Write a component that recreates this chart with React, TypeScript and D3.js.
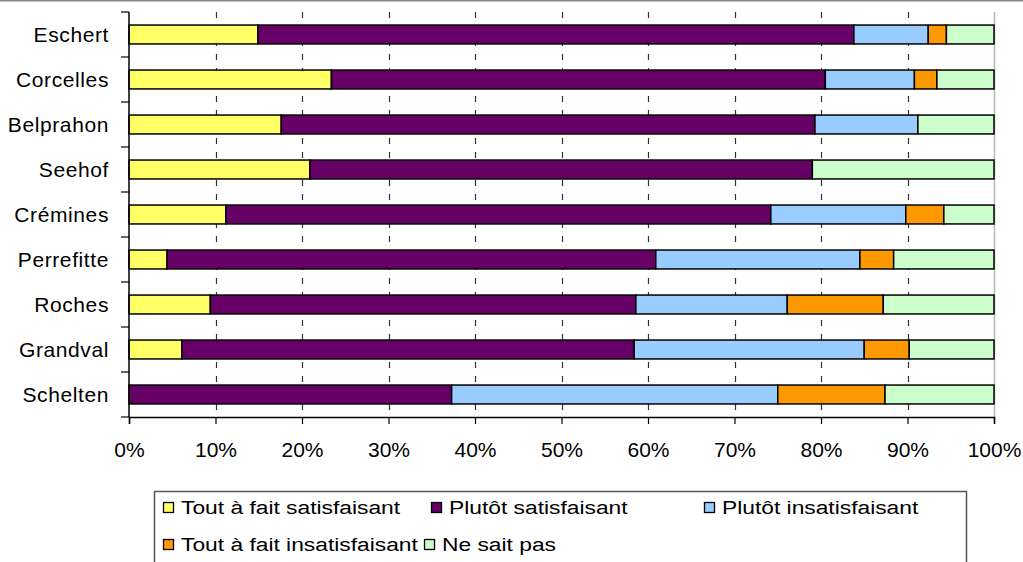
import React, { useRef, useEffect } from "react";
import * as d3 from "d3";

const width = 1023;
const height = 562;
const margin = { left: 129, right: 29, top: 12, bottom: 145 }; // plot area
const font = "'Liberation Sans', Arial, sans-serif";

const communes = [
  "Eschert",
  "Corcelles",
  "Belprahon",
  "Seehof",
  "Crémines",
  "Perrefitte",
  "Roches",
  "Grandval",
  "Schelten",
];

const answers = [
  "Tout à fait satisfaisant",
  "Plutôt satisfaisant",
  "Plutôt insatisfaisant",
  "Tout à fait insatisfaisant",
  "Ne sait pas",
];
const answerColors = ["#FFFF66", "#660066", "#99CCFF", "#FF9900", "#CCFFCC"];

// percentages per commune
const toutSatisfait = [14.9, 23.4, 17.6, 20.9, 11.2, 4.4, 9.4, 6.1, 0];
const plutotSatisfait = [68.9, 57.1, 61.7, 58.1, 63.0, 56.5, 49.2, 52.3, 37.3];
const plutotInsatisfait = [8.6, 10.3, 11.9, 0, 15.6, 23.6, 17.5, 26.6, 37.7];
const toutInsatisfait = [2.1, 2.6, 0, 0, 4.4, 3.9, 11.1, 5.2, 12.4];
const neSaitPas = [5.5, 6.6, 8.8, 21.0, 5.8, 11.6, 12.8, 9.8, 12.6];

const tickValues = [0, 0.1, 0.2, 0.3, 0.4, 0.5, 0.6, 0.7, 0.8, 0.9, 1];

// legend layout: [row, x of swatch]
const legendSlots = [
  [0, 163],
  [0, 431],
  [0, 704],
  [1, 163],
  [1, 424],
];

export default function App() {
  const ref = useRef<SVGSVGElement>(null);

  useEffect(() => {
    if (!ref.current) return;
    const svg = d3.select(ref.current);
    svg.selectAll("*").remove();

    const series = [toutSatisfait, plutotSatisfait, plutotInsatisfait, toutInsatisfait, neSaitPas];
    const rows = communes.map((c, i) => {
      const r: any = { commune: c };
      const total = d3.sum(series, (s) => s[i]);
      answers.forEach((a, k) => (r[a] = series[k][i] / total));
      return r;
    });
    const stacked = d3.stack().keys(answers)(rows);

    const x = d3.scaleLinear().domain([0, 1]).range([margin.left, width - margin.right]);
    const y = d3
      .scaleBand()
      .domain(communes)
      .range([margin.top, height - margin.bottom])
      .paddingInner(0.58)
      .paddingOuter(0.29);
    const color = d3.scaleOrdinal<string>().domain(answers).range(answerColors);
    const bottom = height - margin.bottom;

    // outer border at top of image
    svg
      .append("line")
      .attr("x1", 0)
      .attr("x2", width)
      .attr("y1", 0.5)
      .attr("y2", 0.5)
      .attr("stroke", "#888")
      .attr("stroke-width", 2);

    // plot frame (right side)
    svg
      .append("path")
      .attr("d", `M${x(1) + 0.5},${margin.top}V${bottom}`)
      .attr("fill", "none")
      .attr("stroke", "#b8b8b8")
      .attr("stroke-width", 1.5);

    // dashed vertical gridlines
    svg
      .append("g")
      .selectAll("line")
      .data(tickValues.slice(1, -1))
      .join("line")
      .attr("x1", (d) => Math.round(x(d)) + 0.5)
      .attr("x2", (d) => Math.round(x(d)) + 0.5)
      .attr("y1", margin.top)
      .attr("y2", bottom)
      .attr("stroke", "#333")
      .attr("stroke-width", 1.2)
      .attr("stroke-dasharray", "6,8");

    // bars
    svg
      .append("g")
      .selectAll("g")
      .data(stacked)
      .join("g")
      .attr("fill", (d) => color(d.key))
      .selectAll("rect")
      .data((d) => d.filter((p) => p[1] - p[0] > 0))
      .join("rect")
      .attr("x", (d) => x(d[0]))
      .attr("y", (d) => y((d.data as any).commune) as number)
      .attr("width", (d) => x(d[1]) - x(d[0]))
      .attr("height", y.bandwidth())
      .attr("stroke", "#000")
      .attr("stroke-width", 1.5);

    // y axis
    const yAxis = svg.append("g");
    yAxis
      .append("line")
      .attr("x1", margin.left)
      .attr("x2", margin.left)
      .attr("y1", margin.top)
      .attr("y2", bottom)
      .attr("stroke", "#000")
      .attr("stroke-width", 1.5);
    const step = y.step();
    yAxis
      .selectAll("line.tick")
      .data(d3.range(communes.length + 1))
      .join("line")
      .attr("class", "tick")
      .attr("x1", margin.left - 8)
      .attr("x2", margin.left)
      .attr("y1", (i) => margin.top + i * step)
      .attr("y2", (i) => margin.top + i * step)
      .attr("stroke", "#000")
      .attr("stroke-width", 1.2);
    yAxis
      .selectAll("text")
      .data(communes)
      .join("text")
      .attr("x", 109)
      .attr("y", (d) => (y(d) as number) + y.bandwidth() / 2)
      .attr("dy", "0.35em")
      .attr("text-anchor", "end")
      .attr("font-family", font)
      .attr("font-size", 21)
      .attr("letter-spacing", 0.6)
      .attr("fill", "#000")
      .text((d) => d);

    // x axis
    const xAxis = d3
      .axisBottom(x)
      .tickValues(tickValues)
      .tickFormat(d3.format(".0%"))
      .tickSize(7)
      .tickPadding(18);
    const xg = svg.append("g").attr("transform", `translate(0,${bottom})`).call(xAxis as any);
    xg.select(".domain").attr("stroke", "#000").attr("stroke-width", 1.5);
    xg.selectAll(".tick line").attr("stroke", "#000").attr("stroke-width", 1.2);
    xg.selectAll(".tick text")
      .attr("font-family", font)
      .attr("font-size", 21)
      .attr("fill", "#000");

    // legend
    const lg = svg.append("g");
    lg.append("path")
      .attr("d", `M154.5,${height + 5}V491.5H966.5V${height + 5}`)
      .attr("fill", "none")
      .attr("stroke", "#555")
      .attr("stroke-width", 1.5);
    const items = lg
      .selectAll("g")
      .data(answers)
      .join("g")
      .attr("transform", (_, i) => `translate(${legendSlots[i][1]},${legendSlots[i][0] ? 544 : 507})`);
    items
      .append("rect")
      .attr("x", 0.5)
      .attr("y", -4.5)
      .attr("width", 10)
      .attr("height", 10)
      .attr("fill", (d) => color(d))
      .attr("stroke", "#000")
      .attr("stroke-width", 1.3);
    items
      .append("text")
      .attr("transform", "translate(18,0) scale(1.2,1)")
      .attr("dy", "0.36em")
      .attr("font-family", font)
      .attr("font-size", 19)
      .attr("fill", "#000")
      .text((d) => d);
  }, []);

  return (
    <svg
      ref={ref}
      width={width}
      height={height}
      style={{ position: "absolute", left: 0, top: 0, background: "#fff" }}
    />
  );
}
